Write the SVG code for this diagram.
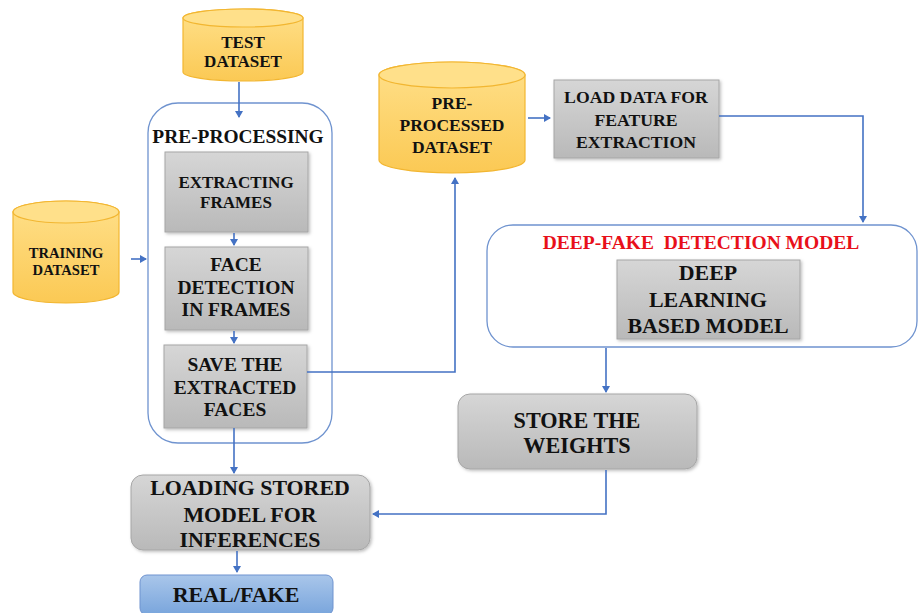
<svg xmlns="http://www.w3.org/2000/svg" width="919" height="613" viewBox="0 0 919 613">
<defs>
<linearGradient id="gray" x1="0" y1="0" x2="0" y2="1"><stop offset="0" stop-color="#d6d6d6"/><stop offset="1" stop-color="#b9b9b9"/></linearGradient>
<linearGradient id="yel" x1="0" y1="0" x2="0" y2="1"><stop offset="0" stop-color="#ffe08a"/><stop offset="1" stop-color="#fbc954"/></linearGradient>
<linearGradient id="blue" x1="0" y1="0" x2="0" y2="1"><stop offset="0" stop-color="#a9c6ea"/><stop offset="1" stop-color="#79a5dc"/></linearGradient>
<marker id="arr" markerWidth="8" markerHeight="8" refX="6" refY="4" orient="auto" markerUnits="userSpaceOnUse"><path d="M0,0 L7,4 L0,8 z" fill="#4472c4"/></marker>
<filter id="sh" x="-10%" y="-10%" width="130%" height="130%"><feDropShadow dx="1.5" dy="1.5" stdDeviation="1.5" flood-color="#000" flood-opacity="0.25"/></filter>
</defs>
<style>
text{font-family:'Liberation Serif','Times New Roman','DejaVu Serif',serif;font-weight:700;fill:#111;text-anchor:middle}
.box{fill:url(#gray);stroke:#a6a6a6;stroke-width:1;filter:url(#sh)}
.cyl{fill:url(#yel);stroke:#f2b631;stroke-width:1.2}
.cont{fill:#fff;stroke:#6f93cf;stroke-width:1.3}
.c{fill:none;stroke:#4472c4;stroke-width:1.6}
</style>
<rect width="919" height="613" fill="#fff"/>

<g id="test-dataset">
<path class="cyl" d="M183,18 L183,72 A60,9 0 0 0 303,72 L303,18 A60,9 0 0 0 183,18 z"/>
<ellipse cx="243" cy="18" rx="60" ry="9" fill="#ffe08a" stroke="#f2b631" stroke-width="1.2"/>
<text x="243" y="48" font-size="17">TEST</text>
<text x="243" y="67" font-size="17">DATASET</text>
</g>

<g id="pre-processing">
<rect class="cont" x="148" y="103" width="184" height="340" rx="30"/>
<text x="238" y="143" font-size="19.4">PRE-PROCESSING</text>
</g>

<g id="extracting-frames">
<rect class="box" x="165" y="152" width="143" height="80"/>
<text x="236" y="188" font-size="17">EXTRACTING</text>
<text x="236" y="208" font-size="17">FRAMES</text>
</g>

<g id="face-detection">
<rect class="box" x="165" y="247" width="143" height="83"/>
<text x="236" y="271" font-size="19.5">FACE</text>
<text x="236" y="294" font-size="19.5">DETECTION</text>
<text x="236" y="316" font-size="19.5">IN FRAMES</text>
</g>

<g id="save-faces">
<rect class="box" x="164" y="345" width="143" height="83"/>
<text x="235" y="371" font-size="19.5">SAVE THE</text>
<text x="235" y="394" font-size="19.5">EXTRACTED</text>
<text x="235" y="416" font-size="19.5">FACES</text>
</g>

<g id="training-dataset">
<path class="cyl" d="M13,212 L13,292 A53,11 0 0 0 119,292 L119,212 A53,11 0 0 0 13,212 z"/>
<ellipse cx="66" cy="212" rx="53" ry="11" fill="#ffe08a" stroke="#f2b631" stroke-width="1.2"/>
<text x="66" y="258" font-size="14.6">TRAINING</text>
<text x="66" y="275" font-size="14.6">DATASET</text>
</g>

<g id="pre-processed-dataset">
<path class="cyl" d="M379,75 L379,160 A73,13 0 0 0 525,160 L525,75 A73,13 0 0 0 379,75 z"/>
<ellipse cx="452" cy="75" rx="73" ry="13" fill="#ffe08a" stroke="#f2b631" stroke-width="1.2"/>
<text x="452" y="109" font-size="17.5">PRE-</text>
<text x="452" y="131" font-size="17.5">PROCESSED</text>
<text x="452" y="153" font-size="17.5">DATASET</text>
</g>

<g id="load-data">
<rect class="box" x="554" y="80" width="165" height="78"/>
<text x="636" y="103" font-size="17.7">LOAD DATA FOR</text>
<text x="636" y="126" font-size="17.7">FEATURE</text>
<text x="636" y="148" font-size="17.7">EXTRACTION</text>
</g>

<g id="deepfake-model">
<rect class="cont" x="487" y="225" width="430" height="122" rx="26"/>
<text x="701" y="249" font-size="19.5" style="fill:#e8101a" xml:space="preserve">DEEP-FAKE  DETECTION MODEL</text>
</g>

<g id="deep-learning">
<rect class="box" x="617" y="260" width="183" height="79"/>
<text x="708" y="280" font-size="21.9">DEEP</text>
<text x="708" y="307" font-size="21.9">LEARNING</text>
<text x="708" y="333" font-size="21.9">BASED MODEL</text>
</g>

<g id="store-weights">
<rect class="box" x="458" y="394" width="239" height="75" rx="12"/>
<text x="577" y="428" font-size="22.2">STORE THE</text>
<text x="577" y="453" font-size="22.2">WEIGHTS</text>
</g>

<g id="loading-stored">
<rect class="box" x="131" y="475" width="239" height="75" rx="12"/>
<text x="250" y="495" font-size="21.9">LOADING STORED</text>
<text x="250" y="522" font-size="21.9">MODEL FOR</text>
<text x="250" y="547" font-size="21.9">INFERENCES</text>
</g>

<g id="real-fake">
<rect x="140" y="575" width="193" height="40" rx="7" fill="url(#blue)" stroke="#6f93cf" stroke-width="1"/>
<text x="236" y="602" font-size="22">REAL/FAKE</text>
</g>

<g id="connectors">
<line class="c" x1="239" y1="82" x2="239" y2="117" marker-end="url(#arr)"/>
<line class="c" x1="234" y1="233" x2="234" y2="245" marker-end="url(#arr)"/>
<line class="c" x1="234" y1="331" x2="234" y2="343" marker-end="url(#arr)"/>
<line class="c" x1="131" y1="259" x2="146" y2="259" marker-end="url(#arr)"/>
<polyline class="c" points="307,372 455,372 455,178" marker-end="url(#arr)"/>
<line class="c" x1="528" y1="118" x2="550" y2="118" marker-end="url(#arr)"/>
<polyline class="c" points="719,116 863,116 863,222" marker-end="url(#arr)"/>
<line class="c" x1="606" y1="348" x2="606" y2="392" marker-end="url(#arr)"/>
<polyline class="c" points="606,470 606,514 373,514" marker-end="url(#arr)"/>
<line class="c" x1="234" y1="428" x2="234" y2="473" marker-end="url(#arr)"/>
<line class="c" x1="237" y1="551" x2="237" y2="572" marker-end="url(#arr)"/>
</g>
</svg>
